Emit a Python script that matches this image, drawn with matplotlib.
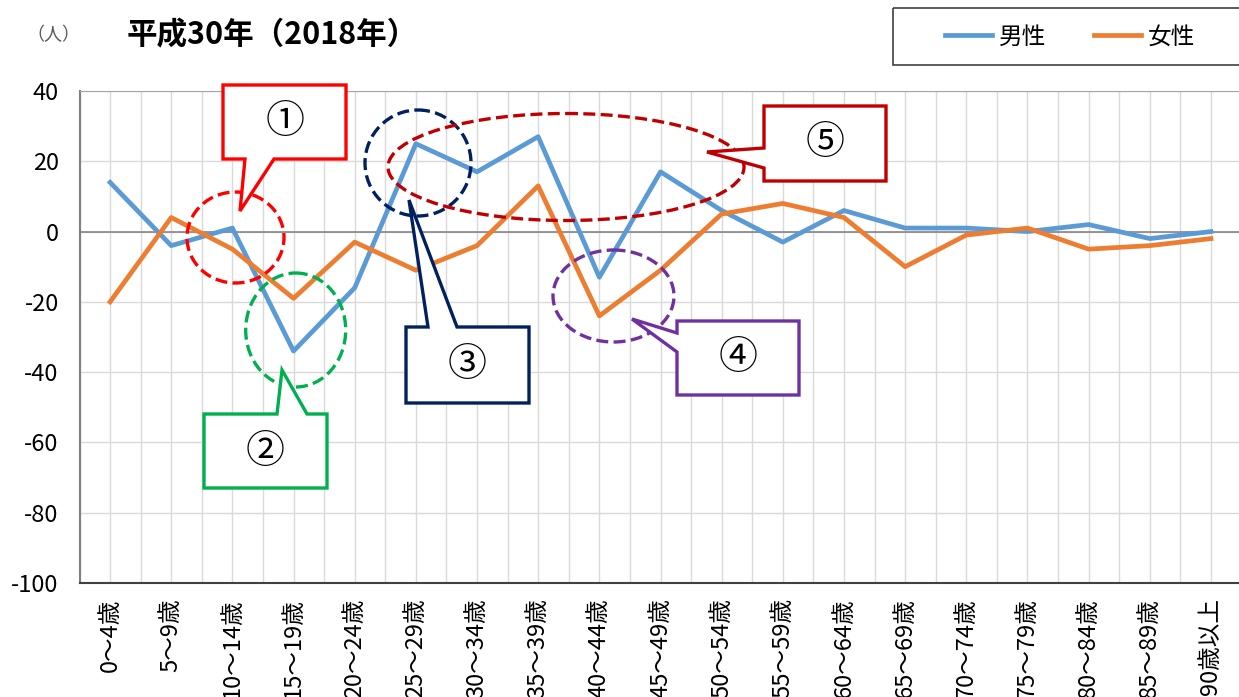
import matplotlib
matplotlib.use("Agg")
import matplotlib.pyplot as plt
from matplotlib.patches import Ellipse, Polygon, Rectangle
from matplotlib.transforms import Affine2D
from matplotlib.ticker import MultipleLocator

plt.rcParams['font.family'] = ['Noto Sans CJK JP', 'DejaVu Sans']
plt.rcParams['axes.unicode_minus'] = False

# data
age_groups = ["0～4歳", "5～9歳", "10～14歳", "15～19歳", "20～24歳", "25～29歳",
              "30～34歳", "35～39歳", "40～44歳", "45～49歳", "50～54歳", "55～59歳",
              "60～64歳", "65～69歳", "70～74歳", "75～79歳", "80～84歳", "85～89歳",
              "90歳以上"]
male = [14, -4, 1, -34, -16, 25, 17, 27, -13, 17, 6, -3, 6, 1, 1, 0, 2, -2, 0]
female = [-20, 4, -5, -19, -3, -11, -4, 13, -24, -11, 5, 8, 4, -10, -1, 1, -5, -4, -2]
y_ticks = [40, 20, 0, -20, -40, -60, -80, -100]

W, H = 1239, 697
fig = plt.figure(figsize=(W / 100, H / 100), dpi=100)
ax = fig.add_axes([79.5 / W, 1 - 583 / H, (1241.5 - 79.5) / W, (583 - 91) / H])

x = list(range(len(age_groups)))
ax.plot(x, male, color="#5B9BD5", lw=3.4, label="男性", zorder=3)
ax.plot(x, female, color="#ED7D31", lw=3.4, label="女性", zorder=3)

ax.set_xlim(-0.5, len(age_groups) - 0.5)
ax.set_ylim(-100, 40)
ax.set_yticks(y_ticks)
ax.set_xticks(x)
ax.set_xticklabels(age_groups, rotation=90, va="top", ha="center")
ax.xaxis.set_minor_locator(MultipleLocator(0.5))
ax.tick_params(axis="both", which="both", length=0)
ax.tick_params(axis="y", labelsize=17, pad=15)
ax.tick_params(axis="x", labelsize=17, pad=11)

ax.grid(axis="y", color="#D9D9D9", lw=1)
ax.grid(axis="x", which="both", color="#D9D9D9", lw=1)
ax.axhline(0, color="#868686", lw=1.2, zorder=2)
ax.set_axisbelow(True)
ax.spines["right"].set_visible(False)
ax.spines["top"].set_color("#A6A6A6")
ax.spines["left"].set_color("#808080")
ax.spines["left"].set_linewidth(1.5)
ax.spines["bottom"].set_color("#404040")
ax.spines["bottom"].set_linewidth(1.5)

# title texts
fig.text(127 / W, 1 - 35 / H, "平成30年（2018年）", fontsize=22, fontweight="bold",
         va="center", ha="left")
fig.text(26 / W, 1 - 35 / H, "（人）", fontsize=13, color="#595959", va="center", ha="left")

# legend
px = Affine2D().scale(1 / W, -1 / H).translate(0, 1) + fig.transFigure
fig.patches.append(Rectangle((893, 8), 360, 57, transform=px, fill=False,
                             edgecolor="#404040", lw=1.2))
fig.legend(loc="center", bbox_to_anchor=(1070 / W, 1 - 37 / H), ncol=2, frameon=False,
           fontsize=17, handlelength=2.0, handletextpad=0.3, columnspacing=2.0)

# dashed circles
circles = [
    ((235.5, 237.5), 97, 91, "#FF0000"),
    ((295.7, 330), 100, 114, "#00B050"),
    ((418, 163), 106, 106, "#002060"),
    ((613.5, 296), 121, 92, "#7030A0"),
    ((566, 167), 356, 107, "#C00000"),
]
for c, w, h, col in circles:
    fig.patches.append(Ellipse(c, w, h, transform=px, fill=False, edgecolor=col,
                               lw=2.4, linestyle=(0, (3.6, 1.6)), zorder=5))

# callout boxes
callouts = [
    ([(223, 85), (346, 85), (346, 159), (274, 159), (240, 211), (245, 159), (223, 159)],
     (285, 122), "①", "#FF0000"),
    ([(204, 414), (277, 414), (282, 370), (307, 414), (327, 414), (327, 488), (204, 488)],
     (265, 452), "②", "#00B050"),
    ([(406, 327), (428, 327), (409, 200), (457, 327), (529, 327), (529, 403), (406, 403)],
     (467, 365), "③", "#002060"),
    ([(677, 321), (799, 321), (799, 395), (677, 395), (677, 352), (632, 319), (677, 333)],
     (738, 358), "④", "#7030A0"),
    ([(764, 106), (886, 106), (886, 181), (764, 181), (764, 168), (707, 152), (764, 148)],
     (825, 143), "⑤", "#C00000"),
]
for pts, lab_xy, lab, col in callouts:
    fig.patches.append(Polygon(pts, closed=True, transform=px, facecolor="white",
                               edgecolor=col, lw=2.4, joinstyle="miter", zorder=6))
    fig.text(lab_xy[0], lab_xy[1], lab, transform=px, fontsize=28, ha="center",
             va="center", zorder=7)

fig.savefig("out.png", dpi=100)
